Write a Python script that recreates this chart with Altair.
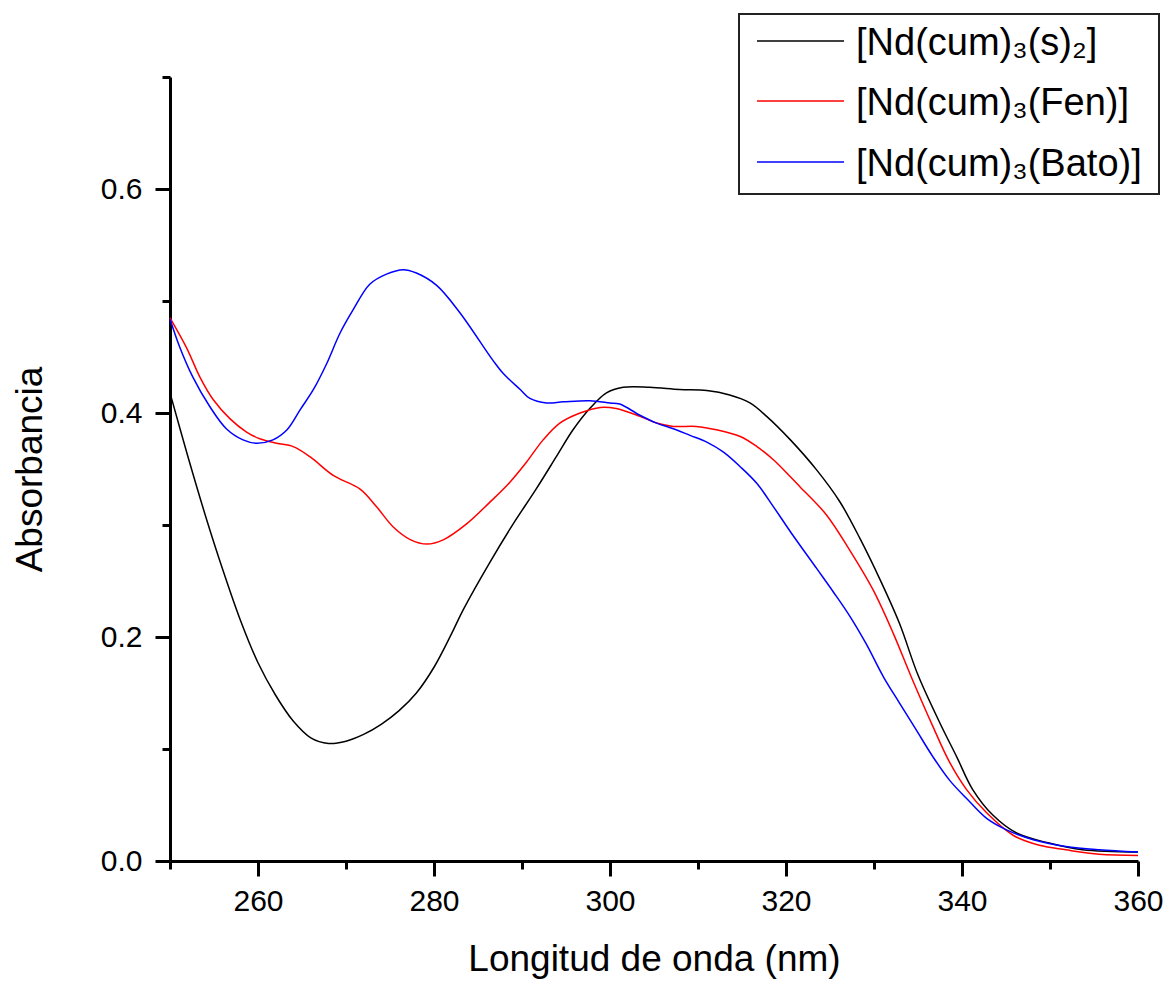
import altair as alt
import pandas as pd

# ---- data ----
series_names = ["[Nd(cum)₃(s)₂]", "[Nd(cum)₃(Fen)]", "[Nd(cum)₃(Bato)]"]
series_colors = ["#000000", "#ff0000", "#0000ff"]

wl_s2 = [250, 252, 254, 256, 258, 260, 262, 264, 266, 268, 270, 272, 274, 276, 278, 280,
         282, 283.3, 286.3, 289, 291.6, 293.9, 295.8, 297.7, 299.6, 301.5, 304.5, 307.9,
         311.0, 313.6, 315.9, 317.8, 320.5, 323.5, 326.1, 328.4, 330.7, 332.9, 335.0,
         337.5, 339.4, 341.2, 343.5, 346.2, 349.9, 353.7, 360]
abs_s2 = [0.418, 0.362, 0.309, 0.260, 0.215, 0.177, 0.148, 0.125, 0.110, 0.105, 0.107,
          0.113, 0.122, 0.134, 0.150, 0.173, 0.203, 0.224, 0.266, 0.301, 0.332, 0.361,
          0.385, 0.404, 0.418, 0.423, 0.423, 0.421, 0.420, 0.416, 0.409, 0.397, 0.376,
          0.349, 0.321, 0.288, 0.251, 0.212, 0.166, 0.123, 0.093, 0.064, 0.041, 0.025,
          0.016, 0.010, 0.008]

wl_fen = [250, 251.9, 253.4, 254.9, 256.8, 258.7, 260.2, 262.1, 264.0, 265.9, 268.6,
          271.6, 273.5, 275.4, 277.3, 279.2, 281.1, 283.7, 286.3, 288.6, 290.5, 292.4,
          294.3, 296.6, 298.9, 300.7, 303.4, 305.3, 307.2, 309.8, 312.1, 314.8, 316.7,
          318.6, 320.5, 321.6, 324.6, 327.2, 329.9, 332.2, 334.2, 336.7, 338.6, 340.5,
          342.8, 345.8, 348.8, 351.8, 355.6, 360]
abs_fen = [0.485, 0.458, 0.432, 0.412, 0.395, 0.383, 0.377, 0.373, 0.370, 0.361, 0.344,
           0.332, 0.316, 0.298, 0.287, 0.283, 0.287, 0.301, 0.320, 0.338, 0.356, 0.376,
           0.391, 0.400, 0.405, 0.404, 0.397, 0.391, 0.388, 0.388, 0.385, 0.379, 0.370,
           0.358, 0.343, 0.334, 0.309, 0.278, 0.242, 0.203, 0.165, 0.120, 0.088, 0.064,
           0.043, 0.023, 0.014, 0.010, 0.006, 0.005]

wl_bato = [250, 251.1, 252.6, 254.5, 256.4, 258.3, 259.8, 261.7, 263.3, 264.8, 266.3,
           267.8, 269.3, 270.8, 272.7, 274.6, 276.5, 278.0, 280.3, 282.9, 286.7, 287.9,
           289.8, 290.9, 292.8, 294.7, 297.7, 300.0, 301.1, 303.4, 305.3, 307.2, 309.1,
           311.0, 312.9, 314.8, 316.7, 318.6, 320.5, 323.5, 325.4, 327.3, 329.1, 331.1,
           332.9, 334.8, 336.7, 338.6, 340.5, 342.8, 345.0, 348.1, 351.8, 355.6, 360]
abs_bato = [0.484, 0.459, 0.432, 0.406, 0.386, 0.376, 0.373, 0.376, 0.385, 0.403, 0.421,
            0.444, 0.471, 0.492, 0.515, 0.524, 0.528, 0.525, 0.514, 0.490, 0.447, 0.435,
            0.421, 0.413, 0.409, 0.410, 0.411, 0.409, 0.408, 0.398, 0.391, 0.386, 0.380,
            0.374, 0.365, 0.352, 0.337, 0.316, 0.294, 0.261, 0.240, 0.218, 0.194, 0.164,
            0.141, 0.117, 0.093, 0.072, 0.056, 0.038, 0.028, 0.019, 0.013, 0.010, 0.008]

x_ticks = [250, 260, 270, 280, 290, 300, 310, 320, 330, 340, 350, 360]
y_ticks = [0.0, 0.1, 0.2, 0.3, 0.4, 0.5, 0.6, 0.7]

rows = []
for name, wls, vals in zip(series_names, [wl_s2, wl_fen, wl_bato], [abs_s2, abs_fen, abs_bato]):
    for w, a in zip(wls, vals):
        rows.append({"wl": w, "absb": a, "serie": name})
df = pd.DataFrame(rows)

FONT = "Liberation Sans"

lines = alt.Chart(df).mark_line(strokeWidth=1.5, interpolate="catmull-rom").encode(
    x=alt.X("wl:Q",
            scale=alt.Scale(domain=[250, 360], nice=False, zero=False),
            axis=alt.Axis(
                title="Longitud de onda (nm)",
                values=x_ticks,
                labelExpr="datum.value % 20 == 0 ? format(datum.value, 'd') : ''",
                tickSize=alt.condition("datum.value % 20 == 0", alt.value(15), alt.value(8)),
                labelPadding=10,
                titleX=484, titleY=109, titleBaseline="alphabetic", titleAlign="center",
            )),
    y=alt.Y("absb:Q",
            scale=alt.Scale(domain=[0, 0.7], nice=False, zero=True),
            axis=alt.Axis(
                title="Absorbancia",
                values=y_ticks,
                labelExpr="round(datum.value*10) % 2 == 0 ? format(datum.value, '.1f') : ''",
                tickSize=alt.condition("round(datum.value*10) % 2 == 0", alt.value(15), alt.value(8)),
                labelPadding=13,
                titleAngle=-90,
                titleX=-129, titleY=392, titleBaseline="alphabetic", titleAlign="center",
            )),
    color=alt.Color("serie:N",
                    scale=alt.Scale(domain=series_names, range=series_colors),
                    legend=None),
    detail="serie:N",
)

# ---- legend box (drawn by hand so subscripts and the framed box match) ----
one = pd.DataFrame({"k": [0]})
legend_layers = [
    alt.Chart(one).mark_rect(fill="white", fillOpacity=0, stroke="#222222", strokeWidth=2).encode(
        x=alt.value(569), x2=alt.value(989), y=alt.value(-63), y2=alt.value(117))
]
row_y = [-36, 24, 85]
for name, col, ry in zip(series_names, series_colors, row_y):
    legend_layers.append(
        alt.Chart(one).mark_rule(color=col, strokeWidth=1.5).encode(
            x=alt.value(587), x2=alt.value(674), y=alt.value(ry)))
    legend_layers.append(
        alt.Chart(one).mark_text(align="left", baseline="middle", font=FONT,
                                 fontSize=38, color="black").encode(
            x=alt.value(686), y=alt.value(ry + 3), text=alt.value(name)))

chart = alt.layer(lines, *legend_layers).properties(
    width=968, height=784,
    padding={"left": 170, "top": 77, "right": 28, "bottom": 120},
    autosize=alt.AutoSizeParams(type="none"),
).configure_view(stroke=None).configure_axis(
    grid=False,
    domainColor="black", domainWidth=3,
    tickColor="black", tickWidth=3,
    labelFont=FONT, labelFontSize=30, labelColor="black",
    labelOverlap=False, labelFlush=False,
    titleFont=FONT, titleFontSize=37, titleFontWeight="normal", titleColor="black",
)

chart.save("out.html", embed_options={"renderer": "svg", "actions": False})
